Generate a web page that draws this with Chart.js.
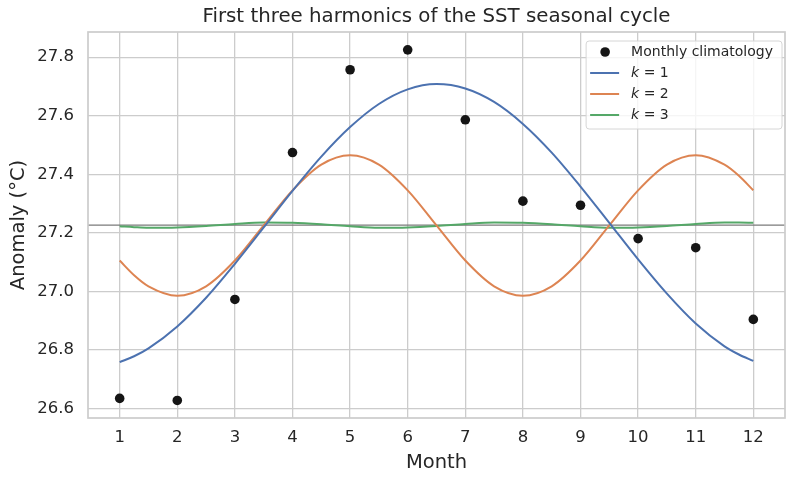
<!DOCTYPE html>
<html>
<head>
<meta charset="utf-8">
<title>SST harmonics</title>
<script src="https://cdn.jsdelivr.net/npm/chart.js"></script>
<style>
  body { margin: 0; background: #ffffff; }
  #wrap { width: 795px; height: 485px; }
</style>
</head>
<body>
<div id="wrap"><canvas id="sstChart" width="795" height="485"></canvas></div>
<script>
// values
const months = [1, 2, 3, 4, 5, 6, 7, 8, 9, 10, 11, 12];
const climatology = [26.634, 26.627, 26.972, 27.474, 27.757, 27.825, 27.586, 27.308, 27.294, 27.180, 27.149, 26.904];
const climMean = 27.226;

const curveMonths = [1, 1.25, 1.5, 2, 2.5, 3, 3.5, 4, 4.5, 5, 5.5, 6, 6.5, 7, 7.5, 8, 8.5, 9, 9.5, 10, 10.5, 11, 11.5, 11.75, 12];
const harmonic1 = [26.758, 26.778, 26.805, 26.880, 26.978, 27.094, 27.218, 27.343, 27.460, 27.561, 27.640, 27.690, 27.708,
                   27.693, 27.647, 27.572, 27.474, 27.358, 27.234, 27.109, 26.992, 26.890, 26.812, 26.784, 26.762];
const harmonic2 = [27.105, 27.055, 27.017, 26.985, 27.017, 27.105, 27.225, 27.345, 27.433, 27.465, 27.433, 27.345, 27.225,
                   27.105, 27.017, 26.985, 27.017, 27.105, 27.225, 27.345, 27.433, 27.465, 27.433, 27.395, 27.345];
const harmonic3 = [27.222, 27.219, 27.217, 27.218, 27.223, 27.230, 27.235, 27.234, 27.229, 27.222, 27.217, 27.218, 27.223,
                   27.230, 27.235, 27.234, 27.229, 27.222, 27.217, 27.218, 27.223, 27.230, 27.235, 27.235, 27.234];

const yTicks = [26.6, 26.8, 27.0, 27.2, 27.4, 27.6, 27.8];
const xLimits = [0.45, 12.55];
const yLimits = [26.567, 27.886];

const titleText = 'First three harmonics of the SST seasonal cycle';
const textColor = '#262626';
const fontName = 'DejaVu Sans';

Chart.defaults.font.family = fontName;
Chart.defaults.color = textColor;

function toPoints(xs, ys) {
    return xs.map((x, i) => ({ x: x, y: ys[i] }));
}

// title centred over the plot area, like matplotlib does
const plotTitle = {
    id: 'plotTitle',
    afterDraw(chart) {
        const { ctx, chartArea } = chart;
        ctx.save();
        ctx.font = '19.8px "' + fontName + '"';
        ctx.fillStyle = textColor;
        ctx.textAlign = 'center';
        ctx.textBaseline = 'middle';
        ctx.fillText(titleText, (chartArea.left + chartArea.right) / 2, 16.5);
        ctx.restore();
    }
};

// four sided frame round the axes
const frame = {
    id: 'frame',
    afterDatasetsDraw(chart) {
        const { ctx, chartArea } = chart;
        ctx.save();
        ctx.strokeStyle = '#cccccc';
        ctx.lineWidth = 1.7;
        ctx.strokeRect(chartArea.left, chartArea.top, chartArea.right - chartArea.left, chartArea.bottom - chartArea.top);
        ctx.restore();
    }
};

// legend box in the upper right corner
const legendBox = {
    id: 'legendBox',
    afterDatasetsDraw(chart) {
        const { ctx, chartArea } = chart;
        const items = chart.data.datasets.filter(d => d.label);
        ctx.save();
        const normal = '14px "' + fontName + '"';
        const italic = 'italic 14px "' + fontName + '"';
        let maxW = 0;
        items.forEach(d => {
            ctx.font = normal;
            maxW = Math.max(maxW, ctx.measureText(d.label).width);
        });
        const w = 45 + maxW + 9;
        const h = 88;
        const x0 = chartArea.right - 3 - w;
        const y0 = chartArea.top + 9;

        ctx.beginPath();
        ctx.roundRect(x0, y0, w, h, 3);
        ctx.fillStyle = 'rgba(255,255,255,0.8)';
        ctx.fill();
        ctx.strokeStyle = '#d6d6d6';
        ctx.lineWidth = 1;
        ctx.stroke();

        items.forEach((d, i) => {
            const cy = y0 + 11 + i * 21;
            if (d.showLine === false) {
                ctx.beginPath();
                ctx.arc(x0 + 19, cy, 4.8, 0, Math.PI * 2);
                ctx.fillStyle = d.backgroundColor;
                ctx.fill();
            } else {
                ctx.beginPath();
                ctx.moveTo(x0 + 4, cy);
                ctx.lineTo(x0 + 33, cy);
                ctx.strokeStyle = d.borderColor;
                ctx.lineWidth = 2;
                ctx.stroke();
            }
            ctx.fillStyle = textColor;
            ctx.textBaseline = 'middle';
            ctx.textAlign = 'left';
            let tx = x0 + 45;
            if (d.label.startsWith('k')) {
                ctx.font = italic;
                ctx.fillText('k', tx, cy);
                tx += ctx.measureText('k').width;
                ctx.font = normal;
                ctx.fillText(d.label.slice(1), tx, cy);
            } else {
                ctx.font = normal;
                ctx.fillText(d.label, tx, cy);
            }
        });
        ctx.restore();
    }
};

const ctx = document.getElementById('sstChart').getContext('2d');
const sstChart = new Chart(ctx, {
    type: 'scatter',
    data: {
        datasets: [
            {
                label: 'Monthly climatology',
                data: toPoints(months, climatology),
                showLine: false,
                backgroundColor: '#151515',
                borderColor: '#151515',
                pointRadius: 4.8,
                pointBorderWidth: 0
            },
            {
                label: 'k = 1',
                data: toPoints(curveMonths, harmonic1),
                showLine: true,
                borderColor: '#4c72b0',
                borderWidth: 2,
                pointRadius: 0,
                cubicInterpolationMode: 'monotone'
            },
            {
                label: 'k = 2',
                data: toPoints(curveMonths, harmonic2),
                showLine: true,
                borderColor: '#dd8452',
                borderWidth: 2,
                pointRadius: 0,
                cubicInterpolationMode: 'monotone'
            },
            {
                label: 'k = 3',
                data: toPoints(curveMonths, harmonic3),
                showLine: true,
                borderColor: '#55a868',
                borderWidth: 2,
                pointRadius: 0,
                cubicInterpolationMode: 'monotone'
            },
            {
                label: '',
                data: toPoints(xLimits, [climMean, climMean]),
                showLine: true,
                borderColor: '#7a7a7a',
                borderWidth: 1.1,
                pointRadius: 0
            }
        ]
    },
    options: {
        responsive: false,
        animation: false,
        devicePixelRatio: 1,
        layout: { padding: { top: 32, right: 10, bottom: 0, left: 0 } },
        plugins: {
            legend: { display: false },
            title: { display: false },
            tooltip: { enabled: false }
        },
        scales: {
            x: {
                type: 'linear',
                min: xLimits[0],
                max: xLimits[1],
                afterBuildTicks: s => { s.ticks = months.map(v => ({ value: v })); },
                afterFit: s => { s.height = 67; },
                grid: { color: '#cccccc', lineWidth: 1.3, drawTicks: false },
                border: { display: false },
                ticks: {
                    padding: 10,
                    autoSkip: false,
                    maxRotation: 0,
                    color: textColor,
                    font: { size: 16.5 },
                    callback: v => String(v)
                },
                title: {
                    display: true,
                    text: 'Month',
                    color: textColor,
                    font: { size: 19.5 },
                    padding: { top: 0, bottom: 10 }
                }
            },
            y: {
                type: 'linear',
                min: yLimits[0],
                max: yLimits[1],
                afterBuildTicks: s => { s.ticks = yTicks.map(v => ({ value: v })); },
                afterFit: s => { s.width = 88; },
                grid: { color: '#cccccc', lineWidth: 1.3, drawTicks: false },
                border: { display: false },
                ticks: {
                    padding: 14,
                    color: textColor,
                    font: { size: 16.5 },
                    callback: v => v.toFixed(1)
                },
                title: {
                    display: true,
                    text: 'Anomaly (°C)',
                    color: textColor,
                    font: { size: 19.5 },
                    padding: { top: 7, bottom: 0 }
                }
            }
        }
    },
    plugins: [plotTitle, frame, legendBox]
});
</script>
</body>
</html>
